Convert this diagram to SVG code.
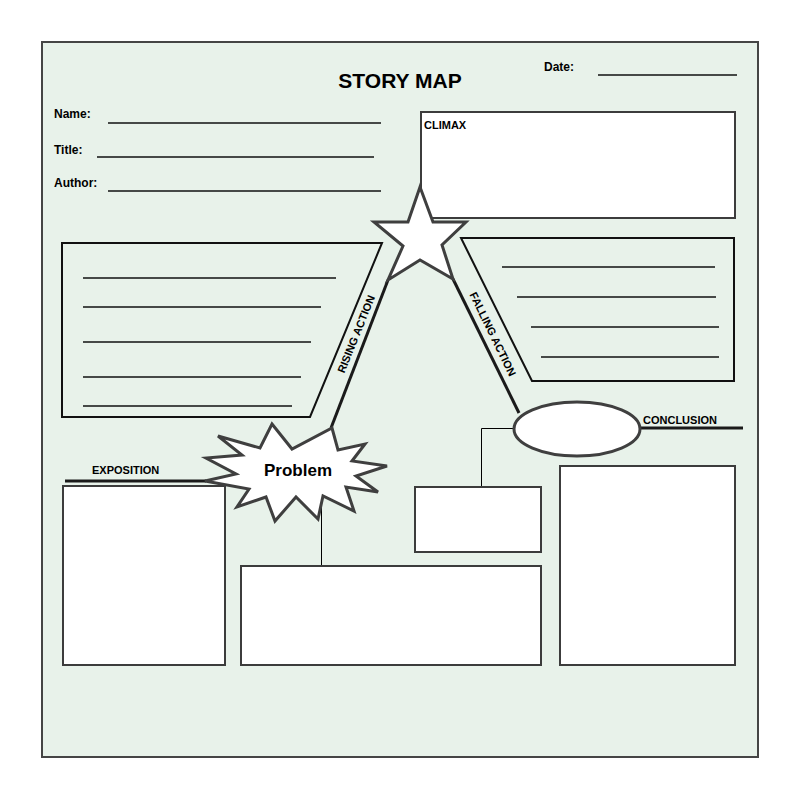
<svg xmlns="http://www.w3.org/2000/svg" width="800" height="800" viewBox="0 0 800 800">
<defs>
<style>
text{font-family:"Liberation Sans",Arial,sans-serif;font-weight:bold;fill:#000}
.box{fill:#fff;stroke:#3c3c3c;stroke-width:2}
.trap{fill:none;stroke:#111;stroke-width:2}
.wl{stroke:#111;stroke-width:1.3;fill:none}
.thick{stroke:#1a1a1a;stroke-width:3;fill:none}
.thin{stroke:#000;stroke-width:1;fill:none}
.shape{fill:#fff;stroke:#3f3f3f;stroke-width:3;stroke-linejoin:miter}
.lbl{font-size:11px}
.fld{font-size:12px}
</style>
</defs>
<rect width="800" height="800" fill="#fff"/>
<rect id="frame" x="42" y="42" width="716" height="715" fill="#e8f2ea" stroke="#454545" stroke-width="2"/>

<g id="header">
<text x="400" y="88" font-size="21" text-anchor="middle">STORY MAP</text>
<text class="fld" x="544" y="71">Date:</text>
<line class="wl" x1="598" y1="75" x2="737" y2="75"/>
<text class="fld" x="54" y="118">Name:</text>
<line class="wl" x1="108" y1="123" x2="381" y2="123"/>
<text class="fld" x="54" y="154">Title:</text>
<line class="wl" x1="97" y1="157" x2="374" y2="157"/>
<text class="fld" x="54" y="187">Author:</text>
<line class="wl" x1="108" y1="191" x2="381" y2="191"/>
</g>

<g id="connectors">
<line class="thick" x1="388" y1="280" x2="331" y2="428"/>
<line class="thick" x1="453" y1="279" x2="519" y2="413"/>
<line class="thick" x1="65" y1="481" x2="206" y2="481"/>
<line class="thick" x1="638" y1="428" x2="743" y2="428"/>
<polyline class="thin" points="514,428.5 481.5,428.5 481.5,487"/>
<line class="thin" x1="321.5" y1="500" x2="321.5" y2="566"/>
</g>

<g id="climax">
<rect class="box" x="421" y="112" width="314" height="106"/>
<text class="lbl" x="424" y="129">CLIMAX</text>
</g>

<g id="star">
<polygon class="shape" points="420,187 433,222 466,222 442,245 453,279 420,260 388,280 403,246 374,222 408,222"/>
</g>

<g id="rising">
<polygon class="trap" points="62,243 382,243 310,417 62,417"/>
<line class="wl" x1="83" y1="278" x2="336" y2="278"/>
<line class="wl" x1="83" y1="307" x2="321" y2="307"/>
<line class="wl" x1="83" y1="342" x2="311" y2="342"/>
<line class="wl" x1="83" y1="377" x2="301" y2="377"/>
<line class="wl" x1="83" y1="406" x2="292" y2="406"/>
<text class="lbl" transform="translate(356,334) rotate(-68)" text-anchor="middle" y="4">RISING ACTION</text>
</g>

<g id="falling">
<polygon class="trap" points="461,238 734,238 734,381 532,381"/>
<line class="wl" x1="502" y1="267" x2="715" y2="267"/>
<line class="wl" x1="517" y1="297" x2="716" y2="297"/>
<line class="wl" x1="531" y1="327" x2="719" y2="327"/>
<line class="wl" x1="541" y1="357" x2="719" y2="357"/>
<text class="lbl" transform="translate(493,334) rotate(64)" text-anchor="middle" y="4">FALLING ACTION</text>
</g>

<g id="conclusion">
<ellipse class="shape" cx="577" cy="429" rx="63" ry="27"/>
<text class="lbl" x="643" y="424">CONCLUSION</text>
</g>

<g id="exposition">
<text class="lbl" x="92" y="474">EXPOSITION</text>
<rect class="box" x="63" y="486" width="162" height="179"/>
</g>

<g id="problem">
<polygon class="shape" points="272,424 292,449 332,428 338,450 365,444 352,461 387,466 356,476 378,492 346,487 354,511 323,496 318,519 296,497 275,521 266,497 237,507 249,489 205,481 236,474 206,458 242,455 218,436 260,448"/>
<text x="298" y="476" font-size="17" text-anchor="middle">Problem</text>
</g>

<g id="box-small">
<rect class="box" x="415" y="487" width="126" height="65"/>
</g>
<g id="box-middle">
<rect class="box" x="241" y="566" width="300" height="99"/>
</g>
<g id="box-right">
<rect class="box" x="560" y="466" width="175" height="199"/>
</g>
</svg>
